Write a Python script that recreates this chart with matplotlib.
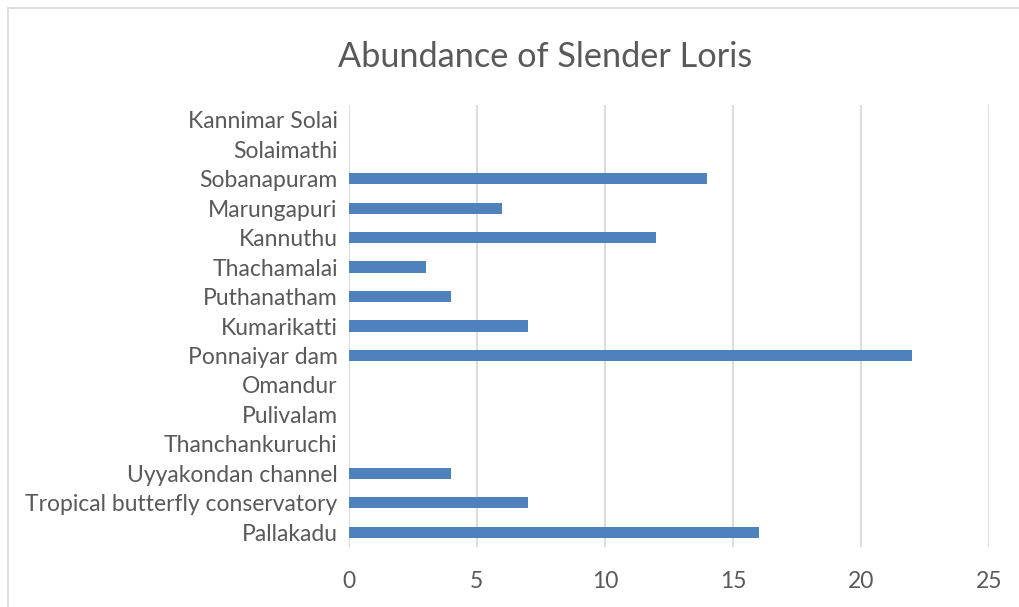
import matplotlib.pyplot as plt
from matplotlib.lines import Line2D

# sites listed from bottom to top, as drawn
sites = ["Pallakadu", "Tropical butterfly conservatory", "Uyyakondan channel",
         "Thanchankuruchi", "Pulivalam", "Omandur", "Ponnaiyar dam",
         "Kumarikatti", "Puthanatham", "Thachamalai", "Kannuthu",
         "Marungapuri", "Sobanapuram", "Solaimathi", "Kannimar Solai"]
counts = [16, 7, 4, 0, 0, 0, 22, 7, 4, 3, 12, 6, 14, 0, 0]
xticks = [0, 5, 10, 15, 20, 25]

plt.rcParams['font.family'] = ['Lato', 'DejaVu Sans']
text_col = '#595959'

fig = plt.figure(figsize=(10.2, 6.07), dpi=100)
ax = fig.add_axes([0.342, 0.0988, 0.6276, 0.7282])

ax.barh(range(len(sites)), counts, height=0.38, color='#4f81bd', zorder=3)

ax.set_xlim(0, 25)
ax.set_ylim(-0.5, len(sites) - 0.5)
ax.set_xticks(xticks)
ax.set_yticks(range(len(sites)))
ax.set_yticklabels(sites)
ax.xaxis.grid(True, color='#d9d9d9', linewidth=1.3, zorder=0)
for s in ax.spines.values():
    s.set_visible(False)
ax.tick_params(axis='both', length=0, labelsize=16.5, colors=text_col)
ax.tick_params(axis='x', pad=17)
ax.tick_params(axis='y', pad=8)

fig.suptitle("Abundance of Slender Loris", x=0.534, y=0.932, fontsize=24.7,
             color=text_col)

# chart area border (left and top edges visible)
fig.add_artist(Line2D([8/1020, 8/1020], [0, 1 - 8/607], transform=fig.transFigure,
                      color='#d9d9d9', linewidth=1.2))
fig.add_artist(Line2D([8/1020, 1], [1 - 8/607, 1 - 8/607], transform=fig.transFigure,
                      color='#d9d9d9', linewidth=1.2))

fig.savefig("out.png", dpi=100)
